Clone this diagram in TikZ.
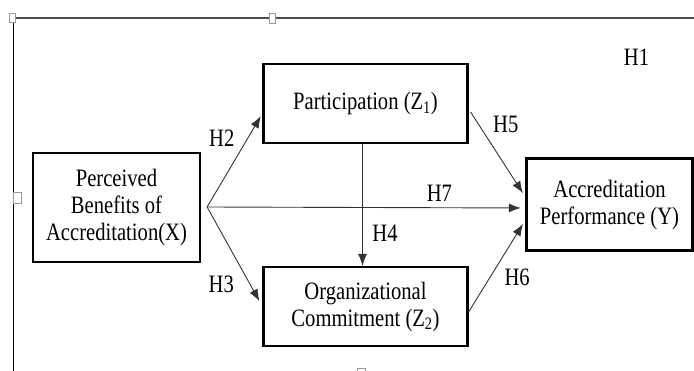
\documentclass[tikz,border=0pt]{standalone}
\usepackage{fontspec}
\setmainfont[FakeStretch=0.825]{Liberation Serif}
\usepackage{tikz}
\usetikzlibrary{shapes.geometric, arrows.meta}
\tikzstyle{block} = [rectangle, minimum width=204pt, minimum height=79pt, align=center, draw=black, line width=2.2pt, fill=white]
\tikzstyle{block2} = [rectangle, minimum width=167pt, minimum height=109pt, align=center, draw=black, line width=2.2pt, fill=white]
\tikzstyle{block3} = [rectangle, minimum width=166pt, minimum height=92pt, align=center, draw=black, line width=2.2pt, fill=white]
\tikzstyle{arrow} = [line width=0.9pt, draw=black!80, -{Latex[length=12pt,width=9pt]}]
\tikzstyle{hyp} = [inner sep=0pt, text=black]
\tikzstyle{handle} = [draw=black!40, fill=white, line width=0.6pt]

\begin{document}
\begin{tikzpicture}[node distance=203pt, font=\fontsize{25}{27}\selectfont]
        \useasboundingbox (0,0) rectangle (694pt,-371pt);
        \draw [line width=1.4pt, draw=black!70] (12pt,-18pt) -- (694pt,-18pt);
        \draw [line width=0.9pt] (13pt,-18pt) -- (13pt,-371pt);
        \draw [handle] (9pt,-13pt) rectangle (15pt,-22pt);
        \draw [handle] (269pt,-13pt) rectangle (275pt,-23pt);
        \draw [handle] (13pt,-192pt) rectangle (21pt,-203pt);
        \draw [handle] (357pt,-368pt) rectangle (365pt,-375pt);

        \node (benefit) [block2] at (116.5pt,-207.5pt) {Perceived\\Benefits of\\Accreditation(X)};
        \node (part) [block, right of=benefit, xshift=46pt, yshift=104pt] {Participation (Z\textsubscript{1})};
        \node (commit) [block, below of=part] {Organizational\\Commitment (Z\textsubscript{2})};
        \node (perf) [block3, right of=commit, xshift=41pt, yshift=102pt] {Accreditation\\Performance (Y)};
        \node (h1) [hyp, above of=perf, xshift=27pt, yshift=-56pt] {H1};

        \coordinate (src) at ([xshift=6pt,yshift=0.5pt]benefit.east);

        \draw [arrow, shorten >=3pt] (src) -- node[hyp, pos=0.7, xshift=-24pt, yshift=3.5pt] {H2} ([yshift=-10pt]part.west);
        \draw [arrow, shorten >=6pt] (src) -- node[hyp, pos=0.78, xshift=-29pt] {H3} (commit.west);
        \draw [arrow, shorten >=4.5pt] (src) -- node[hyp, pos=0.73, yshift=14pt] {H7} ([yshift=-3.5pt]perf.west);
        \draw [arrow] ([xshift=-3pt]part.south) -- node[hyp, pos=0.73, xshift=22.5pt] {H4} ([xshift=-3pt]commit.north);
        \draw [arrow, shorten >=4.5pt] ([xshift=2pt,yshift=-8.5pt]part.east) -- node[hyp, pos=0.15, xshift=27pt] {H5} ([yshift=7.5pt]perf.west);
        \draw [arrow, shorten >=4.5pt] ([yshift=-5.5pt]commit.east) -- node[hyp, pos=0.38, xshift=27pt] {H6} ([yshift=-15.5pt]perf.west);
\end{tikzpicture}
\end{document}
